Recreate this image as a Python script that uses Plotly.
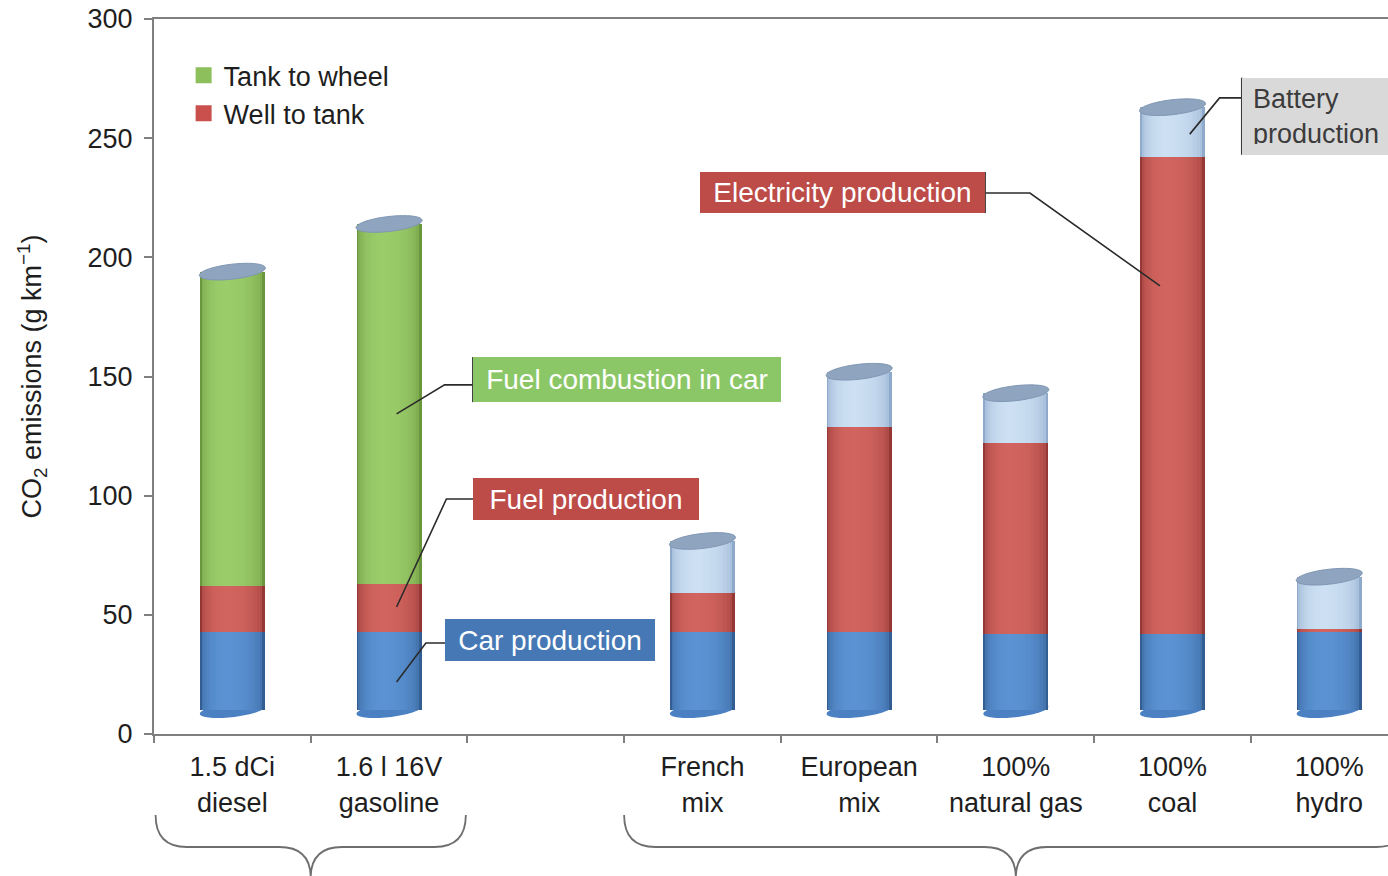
import numpy as np
import plotly.graph_objects as go

# ---- data -------------------------------------------------------------
slot_labels = ["1.5 dCi<br>diesel", "1.6 l 16V<br>gasoline", "", "French<br>mix",
               "European<br>mix", "100%<br>natural gas", "100%<br>coal", "100%<br>hydro"]
vehicles = ["1.5 dCi diesel", "1.6 l 16V gasoline", "French mix", "European mix",
            "100% natural gas", "100% coal", "100% hydro"]
vehicle_slots = [0, 1, 3, 4, 5, 6, 7]
car_production = [33, 33, 33, 33, 32, 32, 33]
fuel_or_electricity_production = [19, 20, 16, 86, 80, 200, 1]
fuel_combustion = [132, 151, 0, 0, 0, 0, 0]
battery_production = [0, 0, 22, 23, 21, 21, 22]
y_ticks = [0, 50, 100, 150, 200, 250, 300]

# ---- layout geometry --------------------------------------------------
W, H = 1388, 876
M_L, M_R, M_T, M_B = 154, 0, 19, 142
X_RANGE = [-0.5, 7.375]
Y_RANGE = [0, 300]
PX_X = (W - M_L - M_R) / (X_RANGE[1] - X_RANGE[0])
PX_Y = (H - M_T - M_B) / (Y_RANGE[1] - Y_RANGE[0])

FLOOR = 10          # cylinders stand on the 3-D floor, lifted off the axis
BAR_W = 0.415
FONT = "Liberation Sans, Arial, Helvetica, sans-serif"
TEXT = "#1E1E1E"
AXIS = "#7F7F7F"


def hex_rgb(h):
    h = h.lstrip("#")
    return np.array([int(h[i:i + 2], 16) for i in (0, 2, 4)], dtype=float)


def mix(c1, c2, t):
    a, b = hex_rgb(c1), hex_rgb(c2)
    r = a + (b - a) * t
    return "rgb(%d,%d,%d)" % tuple(np.round(r))


# (name, values, edge colour, highlight colour)
segments = [
    ("Car production", car_production, "#335E93", "#5A92D3"),
    ("Fuel / electricity production", fuel_or_electricity_production, "#953835", "#D2645F"),
    ("Fuel combustion in car", fuel_combustion, "#6A973D", "#9BCC6A"),
    ("Battery production", battery_production, "#8EA9C9", "#CCDFF3"),
]

# cylinder shading: nested bars, brightness follows the surface normal
n_layers = 14
layer_widths = np.linspace(1.0, 0.12, n_layers)
layer_tones = np.sqrt(1 - layer_widths ** 2) ** 0.8

fig = go.Figure()

base = np.full(len(vehicles), float(FLOOR))
for name, vals, edge, hi in segments:
    vals = np.array(vals, dtype=float)
    for li, (wf, t) in enumerate(zip(layer_widths, layer_tones)):
        shift = -0.1 * BAR_W * (1 - wf)
        fig.add_trace(go.Bar(
            x=np.array(vehicle_slots) + shift,
            y=vals,
            base=base,
            width=BAR_W * wf,
            marker=dict(color=mix(edge, hi, t), line=dict(width=0)),
            name=name,
            showlegend=False,
            customdata=vehicles,
            hovertemplate="%{customdata}<br>" + name + ": %{y}<extra></extra>",
            hoverinfo=None if li == 0 else "skip",
        ))
    base = base + vals
tops = base

# legend entries
for label, colour in [("Tank to wheel", "#8DBF5C"), ("Well to tank", "#C9504C")]:
    fig.add_trace(go.Scatter(x=[None], y=[None], mode="markers", name=label,
                             marker=dict(symbol="square", size=16, color=colour)))


def ellipse_path(xc, yc, rx_px, ry_px, shear):
    t = np.linspace(0, 2 * np.pi, 72)
    xs = rx_px * np.cos(t)
    ys = ry_px * np.sin(t) + shear * xs
    px = xc + xs / PX_X
    py = yc + ys / PX_Y
    return "M " + " L ".join(f"{a:.4f},{b:.4f}" for a, b in zip(px, py)) + " Z"


shapes = []
RX = BAR_W * PX_X / 2
for slot, top in zip(vehicle_slots, tops):
    # cylinder bottom
    shapes.append(dict(type="path", xref="x", yref="y", layer="below",
                       path=ellipse_path(slot, FLOOR, RX, 7, 0.11),
                       fillcolor="#4B81C3", line=dict(width=0)))
    # cylinder lid
    shapes.append(dict(type="path", xref="x", yref="y", layer="above",
                       path=ellipse_path(slot, top, RX + 0.5, 7.5, 0.11),
                       fillcolor="#8FA4BF", line=dict(color="#7F96B3", width=1)))

# ---- call-out labels ----------------------------------------------------
callouts = [
    dict(text="Fuel combustion in car", x=1.536, y=148.7, w=308, h=45, bg="#8CC767", fg="#FFFFFF",
         edge="left", leader=[(1.048, 134.3), (1.354, 146.5), (1.536, 146.5)]),
    dict(text="Fuel production", x=1.536, y=98.6, w=226, h=42, bg="#BD4B48", fg="#FFFFFF",
         edge=None, leader=[(1.048, 53.3), (1.366, 98.6), (1.536, 98.6)]),
    dict(text="Car production", x=1.36, y=39.6, w=210, h=42, bg="#4578B5", fg="#FFFFFF",
         edge=None, leader=[(1.048, 21.8), (1.235, 38.2), (1.36, 38.2)]),
    dict(text="Electricity production", x=2.984, y=227.2, w=285, h=41, bg="#BD4B48", fg="#FFFFFF",
         edge="right", leader=[(4.803, 227.0), (5.09, 227.0), (5.92, 188.0)]),
]

annotations = []
for c in callouts:
    annotations.append(dict(
        x=c["x"], y=c["y"], xref="x", yref="y", xanchor="left", yanchor="middle",
        text=c["text"], showarrow=False, bgcolor=c["bg"], borderpad=0, borderwidth=0,
        width=c["w"], height=c["h"], align="center",
        font=dict(family=FONT, size=28, color=c["fg"])))
    pts = c["leader"]
    shapes.append(dict(type="path", xref="x", yref="y", layer="above",
                       path="M " + " L ".join(f"{a},{b}" for a, b in pts),
                       line=dict(color="#2B2B2B", width=1.6)))
    if c["edge"]:
        ex = c["x"] if c["edge"] == "left" else c["x"] + c["w"] / PX_X
        half = c["h"] / 2 / PX_Y
        shapes.append(dict(type="line", xref="x", yref="y", x0=ex, x1=ex,
                           y0=c["y"] - half, y1=c["y"] + half,
                           line=dict(color="#3A3A3A", width=2)))

# battery call-out (two lines, grey box)
bat_x, bat_y, bat_h, bat_pad = 6.443, 259.2, 77, 11
annotations.append(dict(
    x=bat_x, y=bat_y, xref="x", yref="y", xanchor="left", yanchor="middle",
    text="Battery<br>production", showarrow=False, bgcolor="#D9D9D9", borderpad=bat_pad,
    borderwidth=0, width=160, height=bat_h - 2 * bat_pad, align="left",
    font=dict(family=FONT, size=27, color="#3C3C3C")))
shapes.append(dict(type="path", xref="x", yref="y", layer="above",
                   path="M 6.11,251.7 L 6.30,266.9 L 6.443,266.9",
                   line=dict(color="#2B2B2B", width=1.6)))
shapes.append(dict(type="line", xref="x", yref="y", x0=bat_x, x1=bat_x,
                   y0=bat_y - bat_h / 2 / PX_Y, y1=bat_y + bat_h / 2 / PX_Y,
                   line=dict(color="#3A3A3A", width=2)))


# ---- group braces under the category labels ---------------------------
def brace(x0, x1, y_top, y_mid, y_tip, r):
    xc = (x0 + x1) / 2
    return (f"M {x0},{y_top} Q {x0},{y_mid} {x0 + r},{y_mid} L {xc - r},{y_mid} "
            f"Q {xc},{y_mid} {xc},{y_tip} Q {xc},{y_mid} {xc + r},{y_mid} "
            f"L {x1 - r},{y_mid} Q {x1},{y_mid} {x1},{y_top}")


def py_paper(p):
    return (H - M_B - p) / (H - M_T - M_B)


for x0, x1 in [(-0.49, 1.49), (2.5, 7.5)]:
    shapes.append(dict(type="path", xref="x", yref="paper", layer="above",
                       path=brace(x0, x1, py_paper(815), py_paper(847), py_paper(878), 0.2),
                       line=dict(color="#6E6E6E", width=1.8)))

label_slots = [s for s, t in enumerate(slot_labels) if t]

fig.update_layout(
    width=W, height=H,
    margin=dict(l=M_L, r=M_R, t=M_T, b=M_B, autoexpand=False),
    plot_bgcolor="white", paper_bgcolor="white",
    barmode="overlay", bargap=0,
    font=dict(family=FONT, size=27, color=TEXT),
    shapes=shapes, annotations=annotations,
    legend=dict(x=0.024, y=0.955, xanchor="left", yanchor="top",
                font=dict(family=FONT, size=27, color=TEXT),
                bgcolor="rgba(0,0,0,0)", traceorder="normal", itemsizing="trace"),
    xaxis=dict(range=X_RANGE, tickmode="array", tickvals=label_slots,
               ticktext=[slot_labels[s] for s in label_slots], ticks="", showline=True,
               linecolor=AXIS, linewidth=2, mirror=True, showgrid=False, zeroline=False,
               ticklabelstandoff=8, tickfont=dict(size=27, color=TEXT),
               minor=dict(tickmode="array", tickvals=[s - 0.5 for s in range(8)],
                          ticks="outside", ticklen=7, tickwidth=2, tickcolor=AXIS,
                          showgrid=False)),
    yaxis=dict(range=Y_RANGE, tickmode="array", tickvals=y_ticks, ticks="outside",
               ticklen=8, tickwidth=2, tickcolor=AXIS, showline=True,
               linecolor=AXIS, linewidth=2, showgrid=False, zeroline=False,
               ticklabelstandoff=6, tickfont=dict(size=27, color=TEXT),
               title=dict(text="CO<sub>2</sub> emissions (g km<sup>−1</sup>)",
                          font=dict(size=27, color=TEXT), standoff=38)),
)

fig.write_html("out.html")
